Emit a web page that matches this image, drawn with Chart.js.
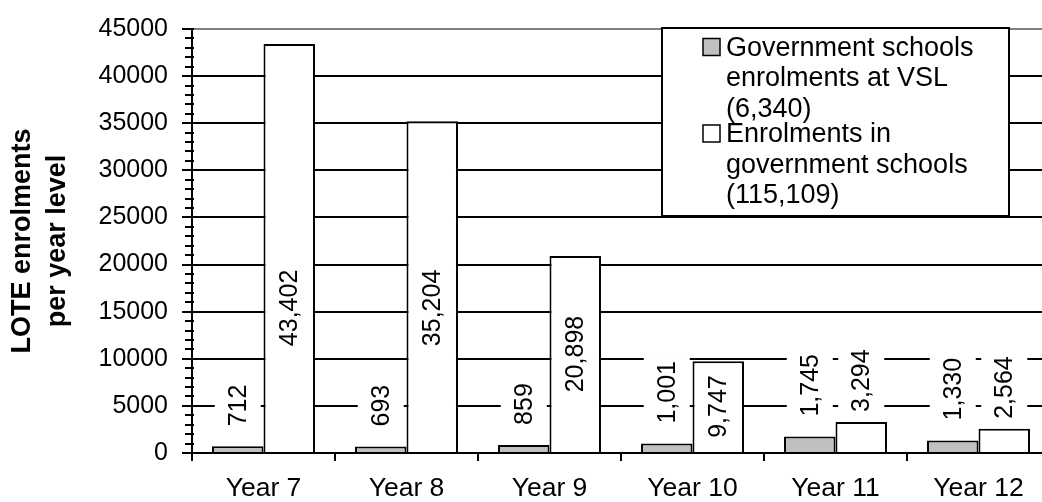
<!DOCTYPE html>
<html>
<head>
<meta charset="utf-8">
<script src="https://cdn.jsdelivr.net/npm/chart.js@4.4.1/dist/chart.umd.min.js"></script>
<style>
  html, body { margin: 0; padding: 0; overflow: hidden; background: #fff; }
  #wrap { width: 1060px; height: 502px; }
</style>
</head>
<body>
<div id="wrap"><canvas id="loteChart" width="1060" height="502"></canvas></div>
<script>
// Data
const yearLevels = ["Year 7", "Year 8", "Year 9", "Year 10", "Year 11", "Year 12"];
const vslEnrolments = [712, 693, 859, 1001, 1745, 1330];
const govtEnrolments = [43402, 35204, 20898, 9747, 3294, 2564];
const seriesNames = [
  ["Government schools", "enrolments at VSL", "(6,340)"],
  ["Enrolments in", "government schools", "(115,109)"],
];
const yAxisTitle = ["LOTE enrolments", "per year level"];

const FONT = "'Liberation Sans', Arial, sans-serif";

// Small ticks on the value axis every 1000, big ones cross the axis
const minorTicks = {
  id: "minorTicks",
  afterDraw(chart) {
    const ctx = chart.ctx;
    const y = chart.scales.y;
    const left = chart.chartArea.left;
    ctx.save();
    ctx.strokeStyle = "#000";
    ctx.lineWidth = 2;
    for (let v = y.min; v <= y.max; v += 1000) {
      const py = Math.round(y.getPixelForValue(v));
      const major = v % 5000 === 0;
      ctx.beginPath();
      ctx.moveTo(left - (major ? 10 : 7), py);
      ctx.lineTo(left + 2, py);
      ctx.stroke();
    }
    ctx.restore();
  },
};

// Rotated value labels on a white box: inside the bar when it fits
// (kept in the lower part of tall bars), otherwise just above it
const barLabels = {
  id: "barLabels",
  afterDatasetsDraw(chart) {
    const ctx = chart.ctx;
    const highest = chart.scales.y.getPixelForValue(15400);
    ctx.save();
    ctx.font = "25px " + FONT;
    chart.data.datasets.forEach((ds, di) => {
      const meta = chart.getDatasetMeta(di);
      meta.data.forEach((bar, i) => {
        const text = ds.data[i].toLocaleString("en-US");
        const len = ctx.measureText(text).width;
        const h = bar.base - bar.y;
        let cy;
        if (len + 20 < h) {
          cy = Math.max((bar.y + bar.base) / 2, highest);
        } else {
          cy = bar.y - ds.labelGap - len / 2;
        }
        ctx.fillStyle = "#fff";
        ctx.fillRect(bar.x - 23, cy - len / 2 - 3, 46, len + 6);
        ctx.save();
        ctx.translate(bar.x + 8, cy);
        ctx.rotate(-Math.PI / 2);
        ctx.fillStyle = "#000";
        ctx.textAlign = "center";
        ctx.textBaseline = "alphabetic";
        ctx.fillText(text, 0, 0);
        ctx.restore();
      });
    });
    ctx.restore();
  },
};

// Framed legend box in the upper right of the plot
const legendBox = {
  id: "legendBox",
  afterDraw(chart) {
    const ctx = chart.ctx;
    ctx.save();
    ctx.fillStyle = "#fff";
    ctx.fillRect(662, 28, 347, 188);
    ctx.strokeStyle = "#000";
    ctx.lineWidth = 2;
    ctx.strokeRect(662, 28, 347, 188);

    ctx.font = "27px " + FONT;
    ctx.textBaseline = "alphabetic";
    const firstBaselines = [55.5, 142];
    chart.data.datasets.forEach((ds, di) => {
      const base = firstBaselines[di];
      ctx.fillStyle = ds.backgroundColor;
      ctx.fillRect(703, base - 17, 17, 17);
      ctx.lineWidth = 1.5;
      ctx.strokeStyle = "#000";
      ctx.strokeRect(703, base - 17, 17, 17);
      ctx.fillStyle = "#000";
      seriesNames[di].forEach((line, li) => {
        ctx.fillText(line, 726, base + li * 30.5);
      });
    });
    ctx.restore();
  },
};

const canvas = document.getElementById("loteChart").getContext("2d");
new Chart(canvas, {
  type: "bar",
  data: {
    labels: yearLevels,
    datasets: [
      {
        label: seriesNames[0].join(" "),
        data: vslEnrolments,
        backgroundColor: "#c0c0c0",
        borderColor: "#000",
        borderWidth: 2,
        labelGap: 20,
      },
      {
        label: seriesNames[1].join(" "),
        data: govtEnrolments,
        backgroundColor: "#fff",
        borderColor: "#000",
        borderWidth: 2,
        labelGap: 10,
      },
    ],
  },
  options: {
    responsive: false,
    animation: false,
    events: [],
    layout: { padding: { top: 20, right: 10, left: 0, bottom: 0 } },
    datasets: { bar: { categoryPercentage: 0.72, barPercentage: 1 } },
    plugins: {
      legend: { display: false },
      tooltip: { enabled: false },
    },
    scales: {
      x: {
        grid: {
          drawOnChartArea: false,
          offset: true,
          color: "#000",
          lineWidth: 2,
          tickLength: 8,
        },
        border: { color: "#000", width: 2 },
        ticks: {
          color: "#000",
          font: { family: FONT, size: 26.5 },
          padding: 12,
          maxRotation: 0,
          autoSkip: false,
        },
        afterFit: (s) => { s.height = 49; },
      },
      y: {
        min: 0,
        max: 45000,
        ticks: {
          stepSize: 5000,
          color: "#000",
          font: { family: FONT, size: 25 },
          padding: 14,
          callback: (v) => String(v),
        },
        grid: {
          color: (c) => (c.tick && c.tick.value === 45000 ? "#808080" : "#000"),
          tickColor: "#000",
          lineWidth: 2,
          tickLength: 10,
        },
        border: { color: "#000", width: 2 },
        title: {
          display: true,
          text: yAxisTitle,
          color: "#000",
          font: { family: FONT, size: 27, weight: "bold", lineHeight: 1.3 },
          padding: { top: 5, bottom: 0 },
        },
        afterFit: (s) => { s.width = 192; },
      },
    },
  },
  plugins: [minorTicks, barLabels, legendBox],
});
</script>
</body>
</html>
